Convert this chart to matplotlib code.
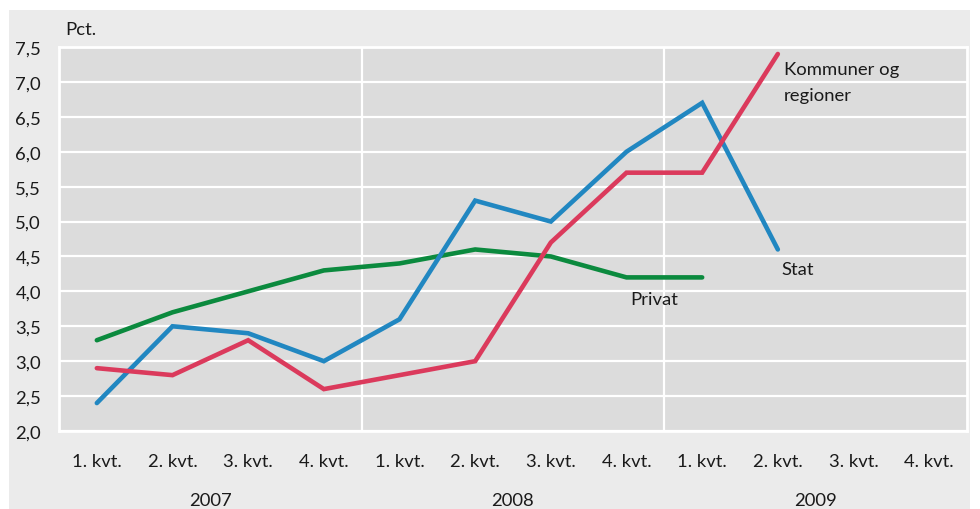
import matplotlib
matplotlib.use("Agg")
import matplotlib.pyplot as plt
from matplotlib.patches import Rectangle

plt.rcParams['font.family'] = ['Lato', 'DejaVu Sans']

quarters = ["1. kvt.", "2. kvt.", "3. kvt.", "4. kvt."] * 3
years = ["2007", "2008", "2009"]
stat = [2.4, 3.5, 3.4, 3.0, 3.6, 5.3, 5.0, 6.0, 6.7, 4.6]
kommuner = [2.9, 2.8, 3.3, 2.6, 2.8, 3.0, 4.7, 5.7, 5.7, 7.4]
privat = [3.3, 3.7, 4.0, 4.3, 4.4, 4.6, 4.5, 4.2, 4.2]
yticks = [2.0, 2.5, 3.0, 3.5, 4.0, 4.5, 5.0, 5.5, 6.0, 6.5, 7.0, 7.5]

c_stat = "#2187c1"
c_komm = "#db3a5c"
c_priv = "#0b8a3e"
txt = "#1a1a1a"
fs = 13.3

fig = plt.figure(figsize=(9.8, 5.1), dpi=100)
fig.patch.set_facecolor("white")
fig.patches.append(Rectangle((9/980, 0), 961/980, 499/510, transform=fig.transFigure,
                             facecolor="#ebebeb", edgecolor="none", zorder=-10))

ax = fig.add_axes([59/980, 1-432/510, 908/980, 384/510])
ax.set_zorder(1)
ax.set_facecolor("#dcdcdc")
ax.set_xlim(-0.5, 11.5)
ax.set_ylim(2.0, 7.5)
for s in ax.spines.values():
    s.set_color("white")
    s.set_linewidth(2)

for y in yticks:
    ax.axhline(y, color="white", lw=1.6, zorder=1)
for xv in [3.5, 7.5]:
    ax.axvline(xv, color="white", lw=1.6, zorder=1)

ax.plot(range(len(privat)), privat, color=c_priv, lw=3.3, solid_capstyle="round", solid_joinstyle="miter", zorder=3)
ax.plot(range(len(stat)), stat, color=c_stat, lw=3.3, solid_capstyle="round", solid_joinstyle="miter", zorder=3)
ax.plot(range(len(kommuner)), kommuner, color=c_komm, lw=3.3, solid_capstyle="round", solid_joinstyle="miter", zorder=4)

ax.set_yticks(yticks)
ax.set_yticklabels([f"{v:.1f}".replace(".", ",") for v in yticks], fontsize=fs, color=txt)
ax.set_xticks(range(12))
ax.set_xticklabels(quarters, fontsize=fs, color=txt)
ax.tick_params(axis="both", length=0)
ax.tick_params(axis="x", pad=16)
ax.tick_params(axis="y", pad=13)

for i, yr in enumerate(years):
    ax.text(1.5 + 4*i, -0.18, yr, transform=ax.get_xaxis_transform(), ha="center", va="center",
            fontsize=fs, color=txt)

fig.text(65/980, 1-30/510, "Pct.", ha="left", va="center", fontsize=fs, color=txt)
ax.text(9.08, 7.0, "Kommuner og\nregioner", ha="left", va="center", fontsize=fs, color=txt, linespacing=1.8)
ax.text(9.05, 4.32, "Stat", ha="left", va="center", fontsize=fs, color=txt)
ax.text(7.05, 3.89, "Privat", ha="left", va="center", fontsize=fs, color=txt)

fig.savefig("out.png", dpi=100, facecolor=fig.get_facecolor())
